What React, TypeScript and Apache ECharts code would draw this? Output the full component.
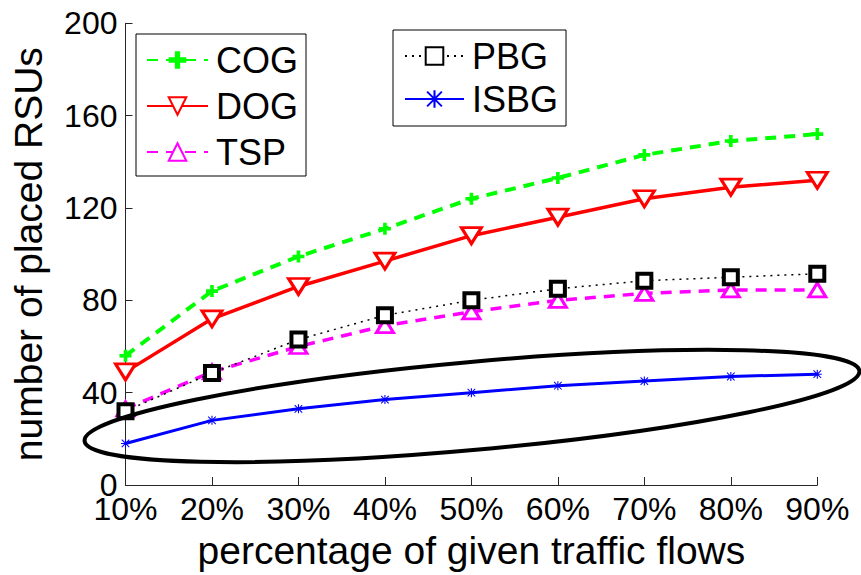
import React, { useEffect, useRef } from "react";
import * as echarts from "echarts";

const categories = ["10%", "20%", "30%", "40%", "50%", "60%", "70%", "80%", "90%"];
const cog = [56, 84, 99, 111, 124, 133, 143, 149, 152];
const dog = [49, 72, 86, 97, 108, 116, 124, 129, 132];
const tsp = [33, 49, 60, 69, 75, 80, 83, 84.5, 84.5];
const pbg = [32, 48.5, 63, 73.5, 80, 85, 88.5, 90, 91.5];
const isbg = [18, 28, 33, 37, 40, 43, 45, 47, 48];
const yTicks = { min: 0, max: 200, interval: 40 };

const FONT = "'Liberation Sans', Arial, sans-serif";
const PLUS = "path://M3.5,0h3v3.5h3.5v3h-3.5v3.5h-3v-3.5h-3.5v-3h3.5z";
const DOWN_TRI = "path://M0,0L10,0L5,8Z";
const UP_TRI = "path://M5,0L10,8L0,8Z";
const STAR =
  "path://M4.4,0h1.2v10h-1.2zM0,4.4h10v1.2h-10zM1.2,0.4l8.4,8.4l-0.8,0.8l-8.4,-8.4zM8.8,0.4l0.8,0.8l-8.4,8.4l-0.8,-0.8z";

export default function App() {
  const ref = useRef<HTMLDivElement>(null);
  useEffect(() => {
    if (!ref.current) return;
    const chart = echarts.init(ref.current, null, { renderer: "svg" });
    const legendCommon = {
      orient: "vertical" as const,
      backgroundColor: "#fff",
      borderColor: "#000",
      borderWidth: 1,
      borderRadius: 0,
      itemHeight: 22,
      itemWidth: 61,
      itemGap: 6,
      textStyle: { fontSize: 36, color: "#000", fontFamily: FONT, lineHeight: 40, padding: [0, 0, 0, 3] },
    };
    chart.setOption({
      animation: false,
      backgroundColor: "#fff",
      textStyle: { fontFamily: FONT },
      grid: { left: 125.5, right: 43.7, top: 23.3, bottom: 84.3, containLabel: false },
      legend: [
        {
          ...legendCommon,
          data: ["COG", "DOG", "TSP"],
          left: 136,
          top: 34,
          padding: [6, 8, 4, 10],
        },
        {
          ...legendCommon,
          data: ["PBG", "ISBG"],
          left: 393,
          top: 30,
          itemGap: 3,
          itemWidth: 59,
          padding: [6, 8, 7, 11],
        },
      ],
      xAxis: {
        type: "category",
        data: categories,
        boundaryGap: false,
        name: "percentage of given traffic flows",
        nameLocation: "middle",
        nameGap: 46,
        nameTextStyle: { fontSize: 39, color: "#000", fontFamily: FONT },
        axisLine: { lineStyle: { color: "#262626", width: 1 } },
        axisTick: { inside: true, length: 8, alignWithLabel: true, lineStyle: { color: "#262626" } },
        axisLabel: { fontSize: 32, color: "#000", margin: 8, fontFamily: FONT },
        splitLine: { show: false },
      },
      yAxis: {
        type: "value",
        min: yTicks.min,
        max: yTicks.max,
        interval: yTicks.interval,
        name: "number of placed RSUs",
        nameLocation: "middle",
        nameGap: 78,
        nameTextStyle: { fontSize: 39, color: "#000", fontFamily: FONT },
        axisLine: { show: true, lineStyle: { color: "#262626", width: 1 } },
        axisTick: { show: true, inside: true, length: 7, lineStyle: { color: "#262626", width: 1 } },
        axisLabel: { fontSize: 32, color: "#000", margin: 8, fontFamily: FONT },
        splitLine: { show: false },
      },
      series: [
        {
          name: "COG",
          type: "line",
          data: cog,
          symbol: PLUS,
          symbolSize: 12,
          itemStyle: { color: "#00ff00" },
          lineStyle: { color: "#00ff00", width: 4, type: [11, 8] },
          z: 3,
        },
        {
          name: "DOG",
          type: "line",
          data: dog,
          symbol: DOWN_TRI,
          symbolSize: [20, 16],
          itemStyle: { color: "#fff", borderColor: "#ff0000", borderWidth: 3 },
          lineStyle: { color: "#ff0000", width: 3.5 },
          z: 3,
        },
        {
          name: "TSP",
          type: "line",
          data: tsp,
          symbol: UP_TRI,
          symbolSize: [17, 14],
          itemStyle: { color: "#fff", borderColor: "#ff00ff", borderWidth: 3 },
          lineStyle: { color: "#ff00ff", width: 3.5, type: [11, 8] },
          z: 3,
        },
        {
          name: "PBG",
          type: "line",
          data: pbg,
          symbol: "rect",
          symbolSize: 14,
          itemStyle: { color: "#fff", borderColor: "#000", borderWidth: 4 },
          lineStyle: { color: "#000", width: 1.5, type: [2, 5] },
          z: 4,
        },
        {
          name: "ISBG",
          type: "line",
          data: isbg,
          symbol: STAR,
          symbolSize: 9,
          itemStyle: { color: "#0000ff" },
          lineStyle: { color: "#0000ff", width: 3 },
          z: 3,
        },
      ],
      graphic: [
        {
          type: "ellipse",
          x: 472,
          y: 406,
          rotation: 0.09,
          shape: { cx: 0, cy: 0, rx: 389, ry: 44 },
          style: { fill: "none", stroke: "#000", lineWidth: 4 },
          z: 10,
        },
      ],
    });
    return () => chart.dispose();
  }, []);
  return (
    <div
      ref={ref}
      style={{ position: "fixed", left: 0, top: 0, width: 861, height: 575 }}
    />
  );
}
